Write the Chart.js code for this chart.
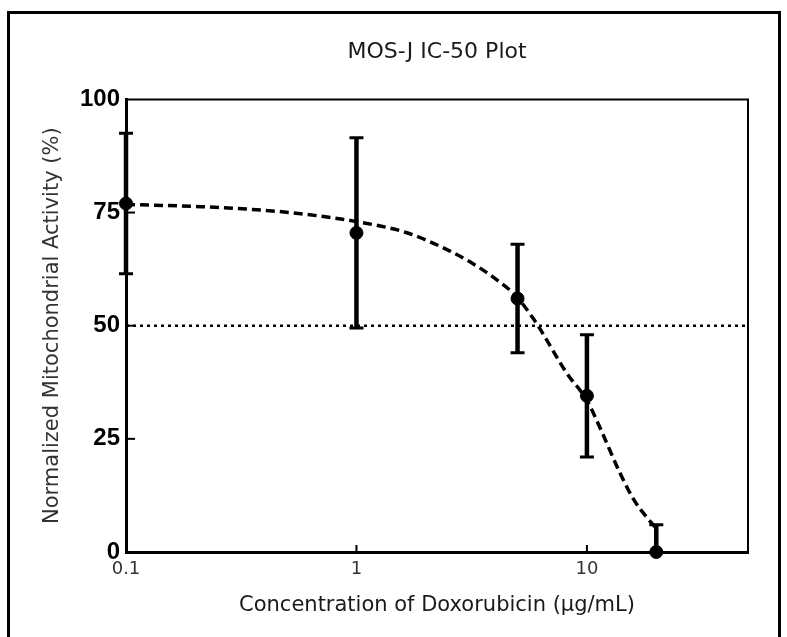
<!DOCTYPE html>
<html>
<head>
<meta charset="utf-8">
<title>MOS-J IC-50 Plot</title>
<script src="https://cdn.jsdelivr.net/npm/chart.js@4.4.1/dist/chart.umd.min.js"></script>
<style>
  html, body { margin: 0; padding: 0; background: #fff; }
  #wrap { position: relative; width: 787px; height: 637px; }
</style>
</head>
<body>
<div id="wrap">
  <canvas id="ic50Chart" width="787" height="637"></canvas>
</div>
<script>
// Doxorubicin concentrations (ug/mL) and mean normalized activity (%)
const concentrations = [0.1, 1, 5, 10, 20];
const meanActivity = [77, 70.5, 56, 34.5, 0];
const sdActivity = [15.5, 21, 12, 13.5, 6];

// Fitted dose-response curve
const fitConc = [0.1, 0.21, 0.35, 0.56, 1, 1.64, 2.52, 3.18, 4.0, 4.94, 5.81, 6.24, 8.18, 10, 11.5, 13.9, 16, 18.3, 19.8];
const fitActivity = [76.8, 76.3, 75.7, 74.8, 73, 70.6, 66.6, 63.8, 60.4, 56.5, 51.8, 49.4, 39.5, 33.5, 27, 17.5, 11.5, 7.5, 5.5];

// 50% reference line
const halfLineConc = [0.1, 50];
const halfLineActivity = [50, 50];

const xTicks = [0.1, 1, 10];
const yTicks = [0, 25, 50, 75, 100];

const arialFamily = "'Liberation Sans', Arial, sans-serif";
const sansFamily = "'DejaVu Sans', Verdana, sans-serif";

// Error bars, drawn through the chart scales
const errorBarPlugin = {
    id: 'errorBars',
    beforeDatasetsDraw(chart) {
        const { ctx, chartArea, scales: { x, y } } = chart;
        ctx.save();
        ctx.beginPath();
        ctx.rect(chartArea.left - 10, chartArea.top - 10, chartArea.width + 20, chartArea.height + 10);
        ctx.clip();
        ctx.strokeStyle = '#000';
        concentrations.forEach((c, i) => {
            const px = x.getPixelForValue(c);
            const top = y.getPixelForValue(meanActivity[i] + sdActivity[i]);
            const bottom = y.getPixelForValue(meanActivity[i] - sdActivity[i]);
            ctx.lineWidth = 4.5;
            ctx.beginPath();
            ctx.moveTo(px, top);
            ctx.lineTo(px, bottom);
            ctx.stroke();
            ctx.lineWidth = 3;
            [top, bottom].forEach(py => {
                ctx.beginPath();
                ctx.moveTo(px - 7, py);
                ctx.lineTo(px + 7, py);
                ctx.stroke();
            });
        });
        ctx.restore();
    }
};

// Closed plot box, inward ticks and the outer frame
const framePlugin = {
    id: 'frame',
    afterDraw(chart) {
        const { ctx, chartArea, scales: { x, y } } = chart;
        ctx.save();
        ctx.strokeStyle = '#000';
        ctx.lineWidth = 2;
        ctx.beginPath();
        ctx.moveTo(chartArea.left, chartArea.top);
        ctx.lineTo(chartArea.right, chartArea.top);
        ctx.lineTo(chartArea.right, chartArea.bottom);
        ctx.stroke();

        yTicks.slice(1, -1).forEach(v => {
            const py = y.getPixelForValue(v);
            ctx.beginPath();
            ctx.moveTo(chartArea.left, py);
            ctx.lineTo(chartArea.left + 9, py);
            ctx.stroke();
        });
        xTicks.slice(1).forEach(v => {
            const px = x.getPixelForValue(v);
            ctx.beginPath();
            ctx.moveTo(px, chartArea.bottom);
            ctx.lineTo(px, chartArea.bottom - 7);
            ctx.stroke();
        });

        ctx.lineWidth = 3;
        ctx.beginPath();
        ctx.moveTo(8.5, chart.height);
        ctx.lineTo(8.5, 12.5);
        ctx.lineTo(779.5, 12.5);
        ctx.lineTo(779.5, chart.height);
        ctx.stroke();
        ctx.restore();
    }
};

const toPoints = (xs, ys) => xs.map((v, i) => ({ x: v, y: ys[i] }));

const ctx = document.getElementById('ic50Chart').getContext('2d');
new Chart(ctx, {
    type: 'scatter',
    data: {
        datasets: [
            {
                label: 'Mean',
                data: toPoints(concentrations, meanActivity),
                backgroundColor: '#000',
                borderColor: '#000',
                pointRadius: 6.5,
                showLine: false,
                clip: false
            },
            {
                label: 'Fit',
                data: toPoints(fitConc, fitActivity),
                borderColor: '#000',
                borderWidth: 3.5,
                borderDash: [9, 5],
                pointRadius: 0,
                showLine: true,
                cubicInterpolationMode: 'monotone'
            },
            {
                label: '50%',
                data: toPoints(halfLineConc, halfLineActivity),
                borderColor: '#000',
                borderWidth: 2.5,
                borderDash: [3, 4],
                pointRadius: 0,
                showLine: true
            }
        ]
    },
    options: {
        responsive: false,
        animation: false,
        devicePixelRatio: 1,
        layout: { padding: { left: 0, right: 39, top: 0, bottom: 0 } },
        plugins: {
            legend: { display: false },
            tooltip: { enabled: false },
            title: {
                display: true,
                fullSize: false,
                text: 'MOS-J IC-50 Plot',
                color: '#1a1a1a',
                font: { family: sansFamily, size: 22, weight: 'normal' },
                padding: { top: 39, bottom: 34 }
            }
        },
        scales: {
            x: {
                type: 'logarithmic',
                position: 'bottom',
                min: 0.1,
                max: 50,
                afterBuildTicks: scale => {
                    scale.ticks = xTicks.map(v => ({ value: v }));
                },
                afterFit: scale => { scale.height = 85; },
                grid: { display: false, drawTicks: false },
                border: { display: true, color: '#000', width: 3 },
                ticks: {
                    color: '#333',
                    padding: 7,
                    autoSkip: false,
                    maxRotation: 0,
                    font: { family: sansFamily, size: 18 },
                    callback: value => String(value)
                },
                title: {
                    display: true,
                    text: 'Concentration of Doxorubicin (\u00b5g/mL)',
                    color: '#1a1a1a',
                    font: { family: sansFamily, size: 21 },
                    padding: { top: 4, bottom: 19 }
                }
            },
            y: {
                min: 0,
                max: 100,
                afterBuildTicks: scale => {
                    scale.ticks = yTicks.map(v => ({ value: v }));
                },
                afterFit: scale => { scale.width = 126; },
                grid: { display: false, drawTicks: false },
                border: { display: true, color: '#000', width: 3 },
                ticks: {
                    color: '#000',
                    padding: 6,
                    font: { family: arialFamily, size: 24, weight: 'bold' }
                },
                title: {
                    display: true,
                    text: 'Normalized Mitochondrial Activity (%)',
                    color: '#333',
                    font: { family: sansFamily, size: 21 },
                    padding: { top: 40, bottom: 0 }
                }
            }
        }
    },
    plugins: [errorBarPlugin, framePlugin]
});
</script>
</body>
</html>
